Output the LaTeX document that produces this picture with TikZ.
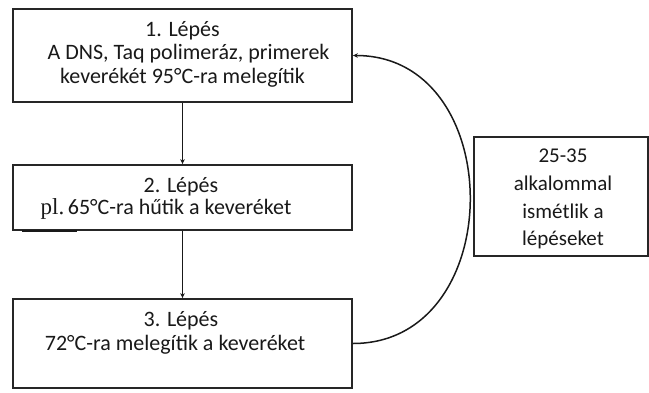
\documentclass[tikz,border=0pt]{standalone}
\usepackage{fontspec}
\setmainfont{Carlito}
\newfontfamily\plfont{Liberation Serif}
\usetikzlibrary{arrows.meta}
\begin{document}
\begin{tikzpicture}[x=1pt,y=-1pt,
  boxstyle/.style={draw=black!85,line width=1.8pt,inner sep=0pt,fill=white},
  txt/.style={anchor=base,inner sep=0pt,font=\fontsize{22}{24}\selectfont,text=black!90},
  rtxt/.style={anchor=base,inner sep=0pt,font=\fontsize{21}{26}\selectfont,text=black!90},
  conn/.style={draw=black!90,line width=1.5pt,-{Stealth[length=5pt,width=4.5pt]}}]
\useasboundingbox (0,0) rectangle (649,392);
\node[boxstyle,minimum width=339pt,minimum height=93pt] (b1) at (182.5,55.5) {};
\node[boxstyle,minimum width=339pt,minimum height=65pt] (b2) at (182.5,197.5) {};
\node[boxstyle,minimum width=339pt,minimum height=89pt] (b3) at (182.5,343.5) {};
\node[boxstyle,minimum width=174pt,minimum height=119pt] (b4) at (561,196.5) {};
% texts
\node[txt] (t11) at (182.5,36) {1. Lépés};
\node[txt] (t12) at (188.5,59) {A DNS, Taq polimeráz, primerek};
\node[txt] (t13) at (182.5,83) {keverékét 95°C-ra melegítik};
\node[txt] (t21) at (181,192) {2. Lépés};
\node[txt] (t22) at (166,214) {{\plfont\fontsize{23}{24}\selectfont pl.}\,65°C-ra hűtik a keveréket};
\node[txt] (t31) at (181,326) {3. Lépés};
\node[txt] (t32) at (175,350) {72°C-ra melegítik a keveréket};
\node[rtxt] (t41) at (563,162) {25-35};
\node[rtxt] (t42) at (563,190) {alkalommal};
\node[rtxt] (t43) at (563,218) {ismétlik a};
\node[rtxt] (t44) at (563,245) {lépéseket};
\draw[line width=2.6pt,black!90] ([xshift=10pt]b2.south west) -- ([xshift=65pt]b2.south west);
% connectors
\draw[conn] (b1.south) -- (b2.north);
\draw[conn] (b2.south) -- (b3.north);
\draw[conn] (b3.east) .. controls +(156,0) and +(156,0) .. (b1.east);
\end{tikzpicture}
\end{document}
